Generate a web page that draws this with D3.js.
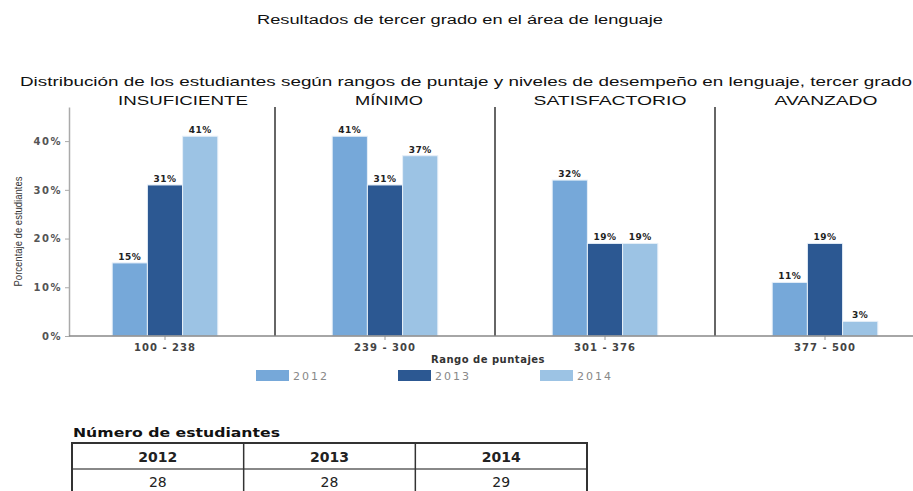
<!DOCTYPE html>
<html>
<head>
<meta charset="utf-8">
<script src="https://cdn.jsdelivr.net/npm/d3@7"></script>
<style>
  body { margin: 0; background: #fff; }
  svg { display: block; }
</style>
</head>
<body>
<svg class="chart"></svg>
<script>
const years = ["2012", "2013", "2014"];
const ranges = ["100 - 238", "239 - 300", "301 - 376", "377 - 500"];
const levels = ["INSUFICIENTE", "MÍNIMO", "SATISFACTORIO", "AVANZADO"];
const values2012 = [15, 41, 32, 11];
const values2013 = [31, 31, 19, 19];
const values2014 = [41, 37, 19, 3];
const yTicks = [0, 10, 20, 30, 40];
const studentCounts = [28, 28, 29];

const colours = ["#76a8d9", "#2c5892", "#9cc3e4"];
const series = [values2012, values2013, values2014];

const width = 913, height = 491;
const axisX = 69, plotTop = 107, plotBottom = 336;

const svg = d3.select(".chart")
    .attr('width', width)
    .attr('height', height)
    .style('font-family', 'Arial, "Liberation Sans", sans-serif');

// titles, stretched like in the picture
svg.append('text')
    .attr('x', 257).attr('y', 24)
    .attr('textLength', 406).attr('lengthAdjust', 'spacingAndGlyphs')
    .style('font-size', '12px').style('fill', '#111')
    .text('Resultados de tercer grado en el área de lenguaje');

svg.append('text')
    .attr('x', 20).attr('y', 86)
    .attr('textLength', 892).attr('lengthAdjust', 'spacingAndGlyphs')
    .style('font-size', '13px').style('fill', '#111')
    .text('Distribución de los estudiantes según rangos de puntaje y niveles de desempeño en lenguaje, tercer grado');

const x = d3.scaleBand()
    .domain(ranges)
    .range([55, 935]);

const x1 = d3.scaleBand()
    .domain(years)
    .range([x.bandwidth() * 0.26, x.bandwidth() * 0.74]);

const y = d3.scaleLinear()
    .domain([0, 47])
    .range([plotBottom, plotTop]);

const data = ranges.map((r, i) => ({
    range: r,
    level: levels[i],
    values: years.map((yr, j) => ({year: yr, value: series[j][i], colour: colours[j]}))
}));

// y axis
const yAxis = svg.append('g')
    .attr('class', 'axis')
    .attr('transform', `translate(${axisX},0)`)
    .call(d3.axisLeft(y).tickValues(yTicks).tickSize(4).tickSizeOuter(0).tickFormat(d => d + '%'));
yAxis.select('.domain').attr('stroke', '#aaa').attr('stroke-width', 1.5);
yAxis.selectAll('.tick line').attr('stroke', '#aaa');
yAxis.selectAll('.tick text')
    .attr('x', -7)
    .style('font-family', '"DejaVu Sans", sans-serif')
    .style('font-size', '10px')
    .style('font-weight', 'bold')
    .style('letter-spacing', '1.5px')
    .style('fill', '#555');

svg.append('text')
    .attr('transform', `translate(22,${(plotTop + plotBottom) / 2 + 10}) rotate(-90)`)
    .attr('text-anchor', 'middle')
    .attr('textLength', 110).attr('lengthAdjust', 'spacingAndGlyphs')
    .style('font-size', '11px').style('fill', '#333')
    .text('Porcentaje de estudiantes');

// group separators
svg.selectAll('.sep')
    .data(ranges.slice(1))
    .enter().append('line')
    .attr('class', 'sep')
    .attr('x1', d => x(d)).attr('x2', d => x(d))
    .attr('y1', plotTop).attr('y2', plotBottom)
    .attr('stroke', '#666').attr('stroke-width', 2);

// bars
const groups = svg.selectAll('.group')
    .data(data)
    .enter().append('g')
    .attr('class', 'group')
    .attr('transform', d => `translate(${x(d.range)},0)`);

groups.selectAll('rect')
    .data(d => d.values)
    .enter().append('rect')
    .attr('x', d => x1(d.year))
    .attr('y', d => y(d.value))
    .attr('width', x1.bandwidth())
    .attr('height', d => plotBottom - y(d.value))
    .style('fill', d => d.colour)
    .style('stroke', '#e6eff8')
    .style('stroke-width', 1);

groups.selectAll('.bar-label')
    .data(d => d.values)
    .enter().append('text')
    .attr('class', 'bar-label')
    .attr('x', d => x1(d.year) + x1.bandwidth() / 2)
    .attr('y', d => y(d.value) - 3)
    .attr('text-anchor', 'middle')
    .style('font-family', '"DejaVu Sans", sans-serif')
    .style('font-size', '9px')
    .style('font-weight', 'bold')
    .style('letter-spacing', '0.5px')
    .style('fill', '#222')
    .text(d => d.value + '%');

// level headers above each group
const headerLen = [130, 68, 153, 103];
const headerShift = [18, 4, 5, 1];
svg.selectAll('.level')
    .data(data)
    .enter().append('text')
    .attr('class', 'level')
    .attr('x', (d, i) => x(d.range) + x.bandwidth() / 2 + headerShift[i])
    .attr('y', 105)
    .attr('text-anchor', 'middle')
    .attr('textLength', (d, i) => headerLen[i]).attr('lengthAdjust', 'spacingAndGlyphs')
    .style('font-size', '13px')
    .style('fill', '#111')
    .text(d => d.level);

// x axis
const xAxis = svg.append('g')
    .attr('class', 'axis')
    .attr('transform', `translate(0,${plotBottom})`)
    .call(d3.axisBottom(x).tickSize(4).tickSizeOuter(0));
xAxis.select('.domain').remove();
xAxis.append('line')
    .attr('x1', axisX).attr('x2', width)
    .attr('stroke', '#888').attr('stroke-width', 1.5);
xAxis.selectAll('.tick line').attr('stroke', '#999');
xAxis.selectAll('.tick text')
    .attr('y', 8)
    .style('font-family', '"DejaVu Sans", sans-serif')
    .style('font-size', '10px')
    .style('font-weight', 'bold')
    .style('letter-spacing', '1px')
    .style('fill', '#444');

svg.append('text')
    .attr('x', 488).attr('y', 363)
    .attr('text-anchor', 'middle')
    .style('font-family', '"DejaVu Sans", sans-serif')
    .style('font-size', '10px')
    .style('font-weight', 'bold')
    .style('letter-spacing', '0.5px')
    .style('fill', '#333')
    .text('Rango de puntajes');

// legend
const legend = svg.selectAll('.legend')
    .data(years)
    .enter().append('g')
    .attr('class', 'legend')
    .attr('transform', (d, i) => `translate(${256 + i * 142},370)`);

legend.append('rect')
    .attr('width', 33).attr('height', 11)
    .style('fill', (d, i) => colours[i]);

legend.append('text')
    .attr('x', 37).attr('y', 10)
    .style('font-family', '"DejaVu Sans", sans-serif')
    .style('font-size', '11px')
    .style('letter-spacing', '2px')
    .style('fill', '#888')
    .text(d => d);

// table: número de estudiantes
svg.append('text')
    .attr('x', 73).attr('y', 437)
    .attr('textLength', 207).attr('lengthAdjust', 'spacingAndGlyphs')
    .style('font-family', '"DejaVu Sans", sans-serif')
    .style('font-size', '13px')
    .style('font-weight', 'bold')
    .style('fill', '#111')
    .text('Número de estudiantes');

const tx = d3.scaleBand().domain(years).range([72, 587]);
const tableTop = 443, rowH = 26;

svg.append('line')
    .attr('x1', 72).attr('x2', 587)
    .attr('y1', tableTop + rowH).attr('y2', tableTop + rowH)
    .attr('stroke', '#888').attr('stroke-width', 2);

svg.selectAll('.col-line')
    .data(years.slice(1))
    .enter().append('line')
    .attr('class', 'col-line')
    .attr('x1', d => tx(d)).attr('x2', d => tx(d))
    .attr('y1', tableTop).attr('y2', height + 5)
    .attr('stroke', '#333').attr('stroke-width', 1.5);

svg.append('path')
    .attr('d', `M72,${height + 5}V${tableTop}H587V${height + 5}`)
    .attr('fill', 'none')
    .attr('stroke', '#333').attr('stroke-width', 2);

svg.selectAll('.th')
    .data(years)
    .enter().append('text')
    .attr('class', 'th')
    .attr('x', d => tx(d) + tx.bandwidth() / 2)
    .attr('y', tableTop + 19)
    .attr('text-anchor', 'middle')
    .style('font-family', '"DejaVu Sans", sans-serif')
    .style('font-size', '14px')
    .style('font-weight', 'bold')
    .style('fill', '#222')
    .text(d => d);

svg.selectAll('.td')
    .data(studentCounts)
    .enter().append('text')
    .attr('class', 'td')
    .attr('x', (d, i) => tx(years[i]) + tx.bandwidth() / 2)
    .attr('y', tableTop + rowH + 18)
    .attr('text-anchor', 'middle')
    .style('font-family', '"DejaVu Sans", sans-serif')
    .style('font-size', '14px')
    .style('fill', '#222')
    .text(d => d);
</script>
</body>
</html>
